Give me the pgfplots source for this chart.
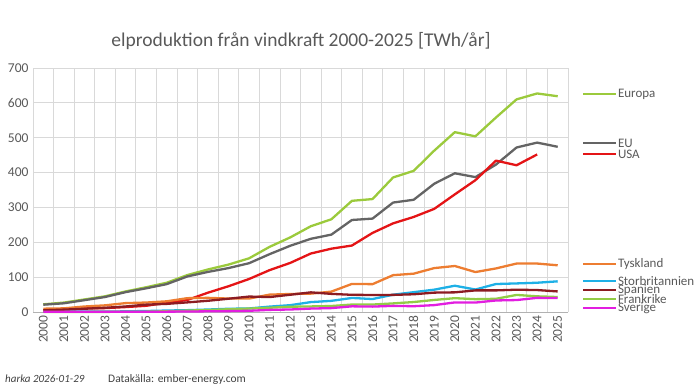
\documentclass[border=0pt]{standalone}
\usepackage{pgfplots}
\pgfplotsset{compat=1.18}
\usepackage{pgfplotstable}
\usepackage{fontspec}
\setmainfont{Carlito}

\definecolor{cEuropa}{RGB}{155,202,60}
\definecolor{cEU}{RGB}{100,100,100}
\definecolor{cUSA}{RGB}{228,20,22}
\definecolor{cTysk}{RGB}{237,125,49}
\definecolor{cUK}{RGB}{30,176,230}
\definecolor{cSpan}{RGB}{140,28,34}
\definecolor{cFrank}{RGB}{146,204,70}
\definecolor{cSver}{RGB}{226,30,224}
\definecolor{txtgray}{RGB}{89,89,89}
\definecolor{gridgray}{RGB}{217,217,217}

% Wind power generation, TWh per year
\pgfplotstableread{
year  europa eu  usa   tysk  uk   span frank sver
2000  22   21   5.6   9.5   0.9  4.7  0.1  0.5
2001  27   25   6.7   10.5  1.0  6.9  0.1  0.5
2002  36   34   10.4  15.8  1.3  9.3  0.3  0.6
2003  45   43   11.2  19.1  1.3  12.1 0.4  0.6
2004  59   57   14.1  25.5  1.9  15.9 0.6  0.9
2005  71   68   17.8  27.2  2.9  21.2 1.0  0.9
2006  84   80   26.6  30.7  4.2  23.3 2.2  1.0
2007  106  102  34.5  39.7  5.3  27.6 4.1  1.4
2008  122  115  55.4  40.6  7.1  32.2 5.7  2.0
2009  136  126  73.9  38.6  9.3  38.1 7.9  2.5
2010  154  140  94.7  38.5  10.2 44.3 9.9  3.5
2011  187  166  120.2 49.9  15.5 42.9 12.2 6.1
2012  214  190  140.8 51.7  19.6 49.5 15.2 7.2
2013  246  210  167.8 52.7  28.4 56.4 16.0 9.8
2014  266  222  181.7 58.5  32.0 52.0 17.2 11.2
2015  319  264  190.7 80.6  40.3 49.3 21.4 16.3
2016  324  268  226.9 79.9  37.2 48.9 21.4 15.5
2017  386  314  254.3 105.7 49.6 49.1 24.7 17.6
2018  405  322  272.7 110.0 56.9 50.9 28.6 16.6
2019  463  368  295.9 126.0 64.1 55.6 34.6 19.8
2020  516  398  337.5 132.0 75.4 56.4 39.7 27.5
2021  504  387  378.2 114.6 64.5 62.0 36.8 27.1
2022  558  423  434.3 125.0 80.3 62.0 37.9 33.1
2023  610  472  421.0 139.0 82.0 64.0 49.0 34.3
2024  627  486  452.0 139.0 84.0 63.0 45.0 40.6
2025  619  474  nan   134.0 88.0 59.0 43.0 40.0
}\wind

\tikzset{keyline/.style={line width=2.3pt},
         keytext/.style={right, inner sep=0.5pt, text=txtgray, font=\fontsize{13}{13}\selectfont}}

\begin{document}
\begin{tikzpicture}[x=1pt,y=1pt]
\useasboundingbox (0,0) rectangle (700,-388);
\begin{axis}[
  at={(33pt,-312pt)}, anchor=south west,
  scale only axis, width=535pt, height=244pt,
  xmin=1999.5, xmax=2025.5, ymin=0, ymax=700,
  xtick={2000,...,2025},
  minor xtick={1999.5,2000.5,...,2025.5},
  ytick={0,100,...,700},
  xminorgrids, ymajorgrids,
  grid style={gridgray, line width=0.8pt},
  minor grid style={gridgray, line width=0.8pt},
  axis line style={draw=none},
  major tick length=0pt, minor tick length=0pt,
  /pgf/number format/1000 sep={},
  /pgf/number format/assume math mode=true,
  tick label style={font=\fontsize{13.5}{15}\selectfont, text=txtgray},
  xticklabel style={rotate=90, anchor=east, xshift=0pt},
  yticklabel style={xshift=-1pt},
  unbounded coords=jump,
  clip=false,
  every axis plot/.append style={line width=2.3pt, line join=round, no markers},
]
\draw[black!30, line width=0.8pt] (axis cs:1999.5,0) -- (axis cs:2025.5,0);
\addplot[cEuropa] table[x=year,y=europa]{\wind};
\addplot[cEU]     table[x=year,y=eu]{\wind};
\addplot[cUSA]    table[x=year,y=usa]{\wind};
\addplot[cTysk]   table[x=year,y=tysk]{\wind};
\addplot[cUK]     table[x=year,y=uk]{\wind};
\addplot[cSpan]   table[x=year,y=span]{\wind};
\addplot[cFrank]  table[x=year,y=frank]{\wind};
\addplot[cSver]   table[x=year,y=sver]{\wind};
% series names beside the plot area
\draw[cEuropa, keyline] (axis cs:2026.25,625) -- (axis cs:2027.85,625) node[keytext] {Europa};
\draw[cEU, keyline]     (axis cs:2026.25,484) -- (axis cs:2027.85,484) node[keytext] {EU};
\draw[cUSA, keyline]    (axis cs:2026.25,453) -- (axis cs:2027.85,453) node[keytext] {USA};
\draw[cTysk, keyline]   (axis cs:2026.25,138) -- (axis cs:2027.85,138) node[keytext] {Tyskland};
\draw[cUK, keyline]     (axis cs:2026.25,89)  -- (axis cs:2027.85,89)  node[keytext] {Storbritannien};
\draw[cSpan, keyline]   (axis cs:2026.25,63)  -- (axis cs:2027.85,63)  node[keytext] {Spanien};
\draw[cFrank, keyline]  (axis cs:2026.25,37)  -- (axis cs:2027.85,37)  node[keytext] {Frankrike};
\draw[cSver, keyline]   (axis cs:2026.25,11)  -- (axis cs:2027.85,11)  node[keytext] {Sverige};
\end{axis}
\node[text=txtgray, font=\fontsize{19.5}{22}\selectfont] at (301pt,-41pt)
  {elproduktion från vindkraft 2000-2025 [TWh/år]};
\node[anchor=base west, inner sep=0pt, text=black!75, font=\fontsize{11}{13}\selectfont\itshape]
  at (5pt,-382pt) {harka 2026-01-29};
\node[anchor=base west, inner sep=0pt, text=black!75, font=\fontsize{11.5}{13}\selectfont]
  at (108pt,-382pt) {Datakälla: ember-energy.com};
\end{tikzpicture}
\end{document}
